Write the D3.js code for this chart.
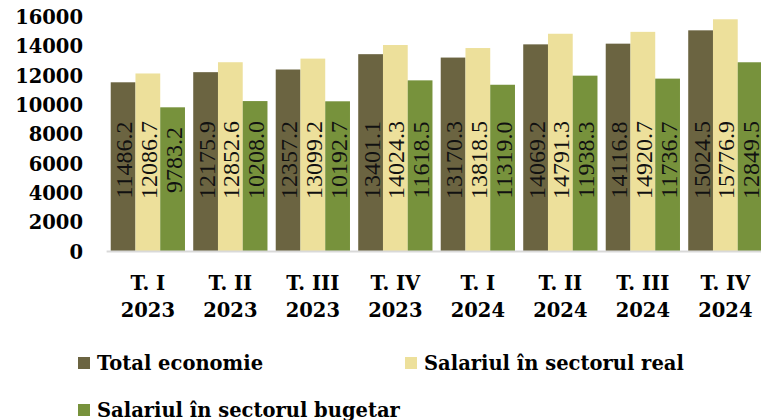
<!DOCTYPE html>
<html>
<head>
<meta charset="utf-8">
<script src="https://cdn.jsdelivr.net/npm/d3@7"></script>
<style>
  html, body { margin: 0; padding: 0; background: #ffffff; }
  svg { display: block; }
</style>
</head>
<body>
<div id="chart"></div>
<script>
// Quarterly average wages, 2023–2024
const quarters = ["T. I", "T. II", "T. III", "T. IV", "T. I", "T. II", "T. III", "T. IV"];
const years = ["2023", "2023", "2023", "2023", "2024", "2024", "2024", "2024"];
const seriesNames = ["Total economie", "Salariul în sectorul real", "Salariul în sectorul bugetar"];
const totalEconomie = [11486.2, 12175.9, 12357.2, 13401.1, 13170.3, 14069.2, 14116.8, 15024.5];
const sectorulReal = [12086.7, 12852.6, 13099.2, 14024.3, 13818.5, 14791.3, 14920.7, 15776.9];
const sectorulBugetar = [9783.2, 10208.0, 10192.7, 11618.5, 11319.0, 11938.3, 11736.7, 12849.5];
const yTicks = [0, 2000, 4000, 6000, 8000, 10000, 12000, 14000, 16000];

const colors = ["#6b6441", "#ede09b", "#77923c"];
const W = 761, H = 420;

const svg = d3.select("#chart").append("svg")
  .attr("width", W).attr("height", H);

const cats = quarters.map((q, i) => i);
const seriesValues = [totalEconomie, sectorulReal, sectorulBugetar];

const x = d3.scaleBand().domain(cats).range([106.6, 766.6])
  .paddingInner(0.1).paddingOuter(0.05);
const xs = d3.scaleBand().domain([0, 1, 2]).range([0, x.bandwidth()]);
const y = d3.scaleLinear().domain([0, 16000]).range([251, 16]);

// y axis tick labels
const yAxis = d3.axisLeft(y).tickValues(yTicks).tickSize(0).tickPadding(0)
  .tickFormat(d3.format("d"));
const gy = svg.append("g").attr("transform", "translate(83,1)").call(yAxis);
gy.select(".domain").remove();
gy.selectAll("text")
  .attr("font-family", "'DejaVu Serif', serif")
  .attr("font-weight", "bold")
  .attr("font-size", "19.5px")
  .attr("fill", "#000");

// bars
const groups = svg.append("g").selectAll("g").data(cats).join("g")
  .attr("transform", d => `translate(${x(d)},0)`);

groups.selectAll("rect")
  .data(i => seriesValues.map((vals, s) => ({ s, v: vals[i] })))
  .join("rect")
  .attr("x", d => xs(d.s))
  .attr("width", xs.bandwidth())
  .attr("y", d => y(d.v))
  .attr("height", d => y(0) - y(d.v))
  .attr("fill", d => colors[d.s]);

// value labels, rotated along the bars
const labelLevel = 6200;
groups.selectAll("text.val")
  .data(i => seriesValues.map((vals, s) => ({ s, v: vals[i] })))
  .join("text")
  .attr("class", "val")
  .attr("transform", d => `translate(${xs(d.s) + xs.bandwidth() / 2 + 1},${y(labelLevel)}) rotate(-90)`)
  .attr("text-anchor", "middle")
  .attr("dominant-baseline", "central")
  .attr("font-family", "'Liberation Serif', serif")
  .attr("font-size", "24px")
  .attr("fill", "#111")
  .text(d => d.v.toFixed(1));

// baseline
svg.append("line")
  .attr("x1", 106.6).attr("x2", W)
  .attr("y1", y(0) + 0.5).attr("y2", y(0) + 0.5)
  .attr("stroke", "#d9d9d9").attr("stroke-width", 2);

// category labels (two lines)
const xl = svg.append("g").selectAll("text").data(cats).join("text")
  .attr("text-anchor", "middle")
  .attr("font-family", "'DejaVu Serif', serif")
  .attr("font-weight", "bold")
  .attr("font-size", "19.5px")
  .attr("fill", "#000");
xl.append("tspan")
  .attr("x", d => x(d) + x.bandwidth() / 2)
  .attr("y", 290)
  .text(d => quarters[d]);
xl.append("tspan")
  .attr("x", d => x(d) + x.bandwidth() / 2)
  .attr("y", 317)
  .text(d => years[d]);

// legend
const legendPos = [[78, 363], [405, 363], [78, 410]];
const lg = svg.append("g").selectAll("g").data(seriesNames).join("g")
  .attr("transform", (d, i) => `translate(${legendPos[i][0]},${legendPos[i][1]})`);
lg.append("rect")
  .attr("x", 0).attr("y", -6).attr("width", 12).attr("height", 12)
  .attr("fill", (d, i) => colors[i]);
lg.append("text")
  .attr("x", 19).attr("y", 0)
  .attr("dominant-baseline", "central")
  .attr("font-family", "'DejaVu Serif', serif")
  .attr("font-weight", "bold")
  .attr("font-size", "19.5px")
  .attr("fill", "#000")
  .text(d => d);
</script>
</body>
</html>
